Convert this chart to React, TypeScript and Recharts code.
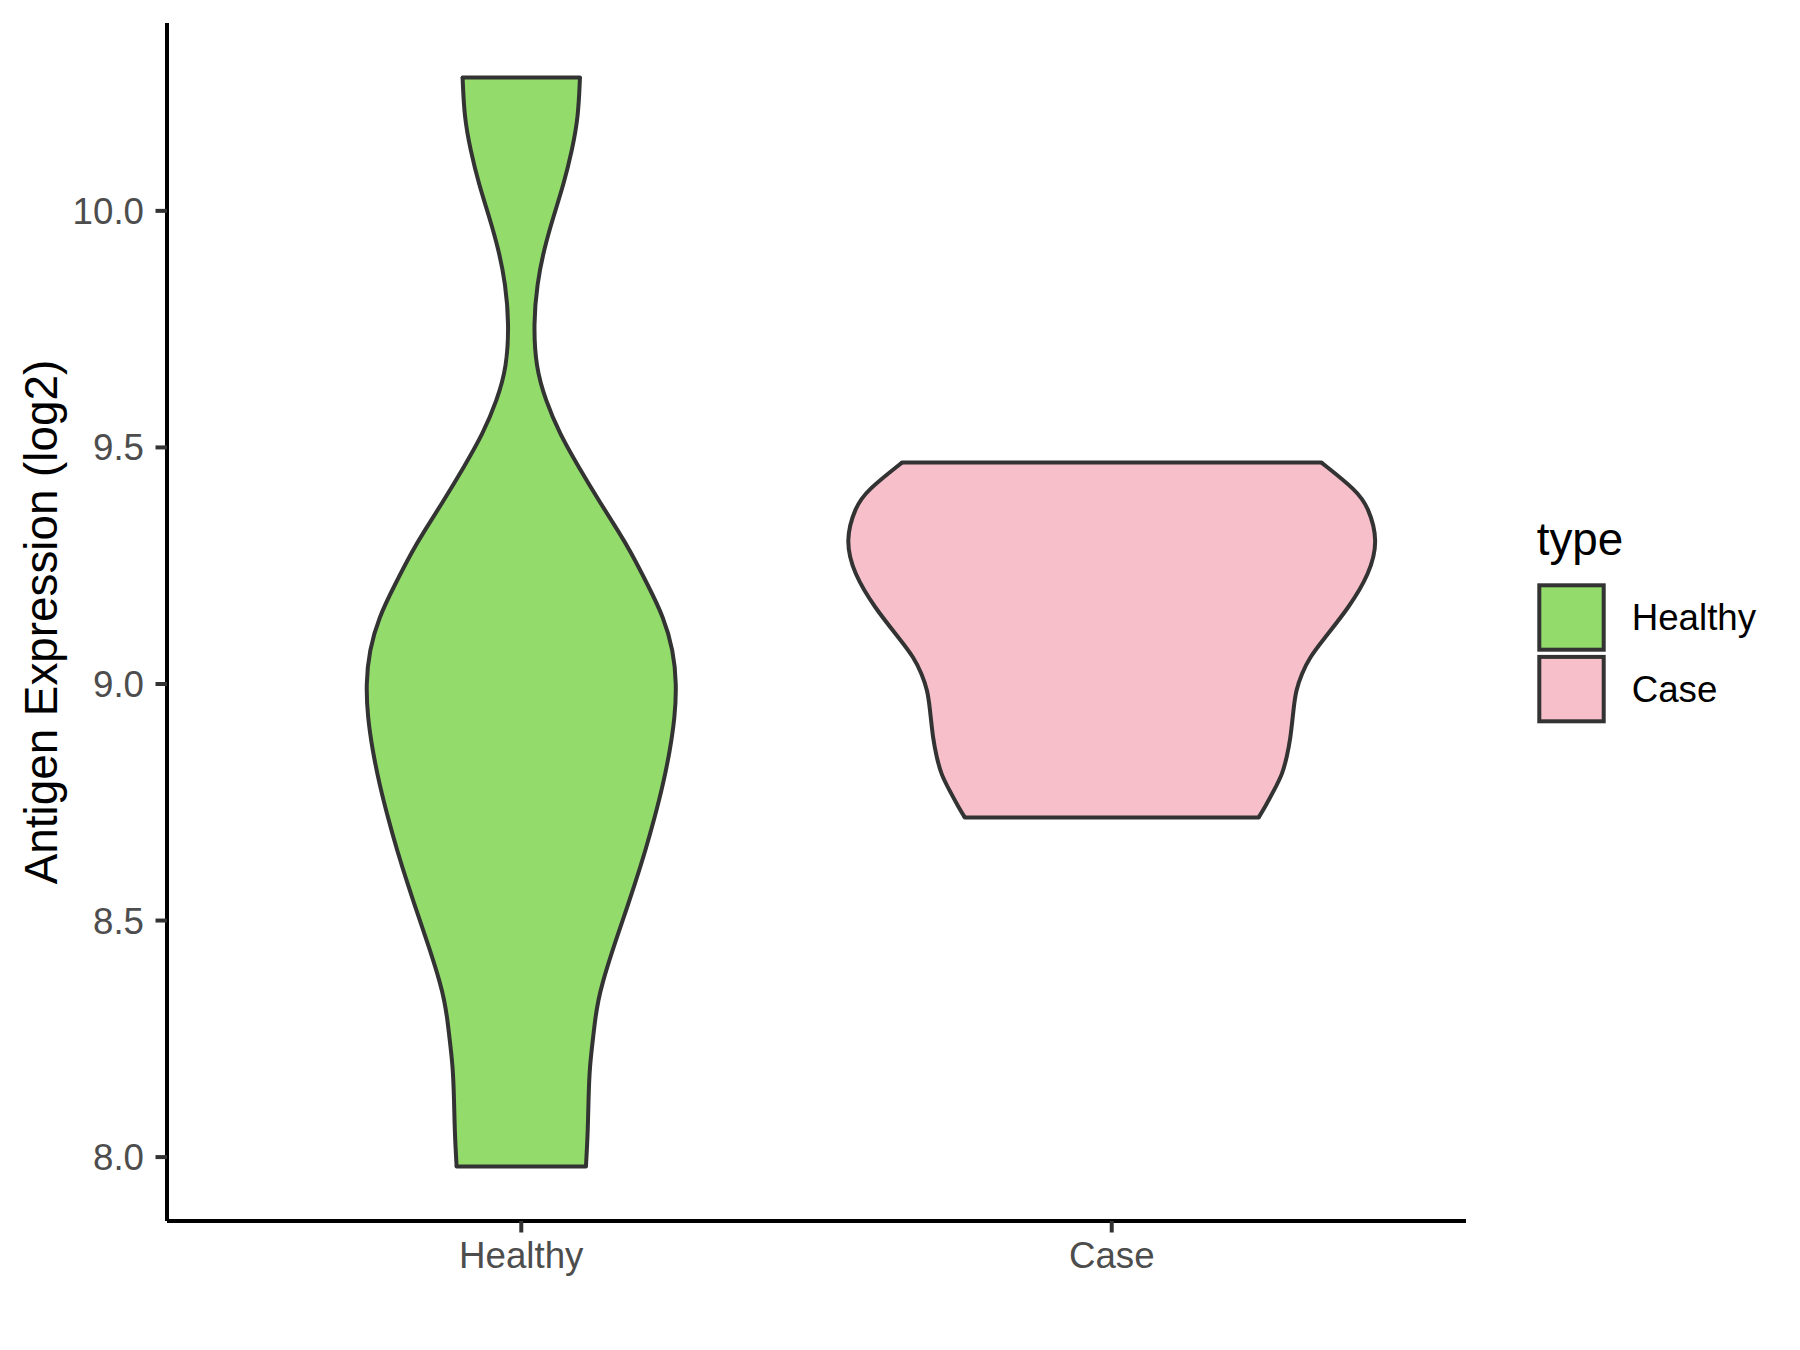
import React from 'react';
import { ComposedChart, Area, XAxis, YAxis, ReferenceLine, Legend } from 'recharts';

// ---- data ----
const categories = ['Healthy', 'Case'];
const fillColors = ['#93DB6B', '#F7BFCA'];
const outlineColor = '#333333';

// Healthy violin: expression value (log2) and half-width (in x-category units)
const healthyY = [10.282, 10.198, 10.128, 10.057, 9.987, 9.917, 9.846, 9.762, 9.67, 9.6, 9.529, 9.458, 9.388, 9.317, 9.282, 9.212, 9.141, 9.071, 9.0, 8.93, 8.859, 8.789, 8.718, 8.648, 8.578, 8.507, 8.437, 8.366, 8.331, 8.296, 8.26, 8.19, 8.119, 8.049, 7.98];
const healthyHalf = [0.0994, 0.0965, 0.086, 0.072, 0.0542, 0.0381, 0.0268, 0.0208, 0.0246, 0.041, 0.0648, 0.0974, 0.1312, 0.1673, 0.184, 0.2133, 0.2413, 0.2574, 0.263, 0.2602, 0.2518, 0.2404, 0.226, 0.2103, 0.1927, 0.1736, 0.1544, 0.1368, 0.1304, 0.1256, 0.1224, 0.1156, 0.1138, 0.1126, 0.1095];

// Case violin
const caseY = [9.468, 9.409, 9.374, 9.303, 9.233, 9.162, 9.092, 9.057, 9.022, 8.986, 8.951, 8.881, 8.845, 8.81, 8.775, 8.74, 8.718];
const caseHalf = [0.3552, 0.4148, 0.4345, 0.4514, 0.4366, 0.4021, 0.357, 0.3358, 0.3217, 0.312, 0.3082, 0.3025, 0.2963, 0.2893, 0.2748, 0.2596, 0.2489];

const yTicks = [8.0, 8.5, 9.0, 9.5, 10.0];
const xTicks = [1, 2];
const yAxisTitle = 'Antigen Expression (log2)';
const legendTitle = 'type';

// ---- build the table the library needs ----
const series = [
  { key: 'healthy', name: categories[0], center: 1, ys: healthyY, halves: healthyHalf, fill: fillColors[0] },
  { key: 'case', name: categories[1], center: 2, ys: caseY, halves: caseHalf, fill: fillColors[1] },
];

const allY = Array.from(new Set([...healthyY, ...caseY])).sort((a, b) => b - a);
const rows = allY.map((v) => {
  const row: Record<string, any> = { v };
  series.forEach((s) => {
    const i = s.ys.indexOf(v);
    row[s.key] = i >= 0 ? [s.center - s.halves[i], s.center + s.halves[i]] : [null, null];
  });
  return row;
});

const yMin = Math.min(...healthyY, ...caseY);
const yMax = Math.max(...healthyY, ...caseY);
const yPad = (yMax - yMin) * 0.05;
const yDomain: [number, number] = [yMin - yPad, yMax + yPad];
const xDomain: [number, number] = [0.4, 2.6];

const FONT = '"Liberation Sans", Arial, Helvetica, sans-serif';
const TICK_FONT = 36.7;
const TITLE_FONT = 45.8;
const LINE_W = 4;

const renderLegend = () => (
  <svg width={300} height={250} style={{ display: 'block', fontFamily: FONT }}>
    <text x={36.7} y={55} fontSize={TITLE_FONT} fill="#000000">{legendTitle}</text>
    {series.map((s, i) => (
      <g key={s.key}>
        <rect x={39.3} y={85.3 + i * 71.6} width={64.4} height={64.4} fill={s.fill} stroke={outlineColor} strokeWidth={LINE_W} />
        <text x={131.7} y={130 + i * 71.6} fontSize={TICK_FONT} fill="#000000">{s.name}</text>
      </g>
    ))}
  </svg>
);

export default function App() {
  return (
    <div style={{ position: 'absolute', left: 0, top: 0, width: 1800, height: 1350, background: '#ffffff' }}>
      <ComposedChart
        width={1800}
        height={1350}
        data={rows}
        layout="vertical"
        margin={{ top: 23, right: 334, bottom: 29, left: 0 }}
        style={{ fontFamily: FONT }}
      >
        <XAxis
          type="number"
          domain={xDomain}
          allowDataOverflow
          ticks={xTicks}
          tickFormatter={(t: number) => categories[t - 1]}
          height={100}
          tickSize={11.5}
          tickMargin={9.2}
          axisLine={{ stroke: '#000000', strokeWidth: LINE_W }}
          tickLine={{ stroke: outlineColor, strokeWidth: LINE_W }}
          tick={{ fill: '#4D4D4D', fontSize: TICK_FONT, fontFamily: FONT }}
        />
        <YAxis
          type="number"
          dataKey="v"
          domain={yDomain}
          allowDataOverflow
          reversed
          ticks={yTicks}
          tickFormatter={(t: number) => t.toFixed(1)}
          width={167}
          tickSize={11.5}
          tickMargin={11.5}
          axisLine={{ stroke: '#000000', strokeWidth: LINE_W }}
          tickLine={{ stroke: outlineColor, strokeWidth: LINE_W }}
          tick={{ fill: '#4D4D4D', fontSize: TICK_FONT, fontFamily: FONT }}
          label={{
            value: yAxisTitle,
            angle: -90,
            position: 'insideLeft',
            offset: 41,
            fill: '#000000',
            fontSize: TITLE_FONT,
            fontFamily: FONT,
            style: { textAnchor: 'middle' },
          }}
        />
        {series.map((s) => (
          <Area
            key={s.key}
            name={s.name}
            dataKey={s.key}
            type="basis"
            fill={s.fill}
            fillOpacity={1}
            stroke={outlineColor}
            strokeWidth={LINE_W}
            connectNulls
            dot={false}
            activeDot={false}
            isAnimationActive={false}
          />
        ))}
        {series.map((s) => {
          const top = 0;
          const bot = s.ys.length - 1;
          return [
            <ReferenceLine
              key={s.key + '-top'}
              segment={[
                { x: s.center - s.halves[top], y: s.ys[top] },
                { x: s.center + s.halves[top], y: s.ys[top] },
              ]}
              stroke={outlineColor}
              strokeWidth={LINE_W}
              strokeLinecap="round"
              ifOverflow="visible"
            />,
            <ReferenceLine
              key={s.key + '-bot'}
              segment={[
                { x: s.center - s.halves[bot], y: s.ys[bot] },
                { x: s.center + s.halves[bot], y: s.ys[bot] },
              ]}
              stroke={outlineColor}
              strokeWidth={LINE_W}
              strokeLinecap="round"
              ifOverflow="visible"
            />,
          ];
        })}
        <Legend
          layout="vertical"
          align="center"
          verticalAlign="middle"
          content={renderLegend}
          wrapperStyle={{ left: 1500, top: 500, width: 300, height: 250 }}
        />
      </ComposedChart>
    </div>
  );
}
